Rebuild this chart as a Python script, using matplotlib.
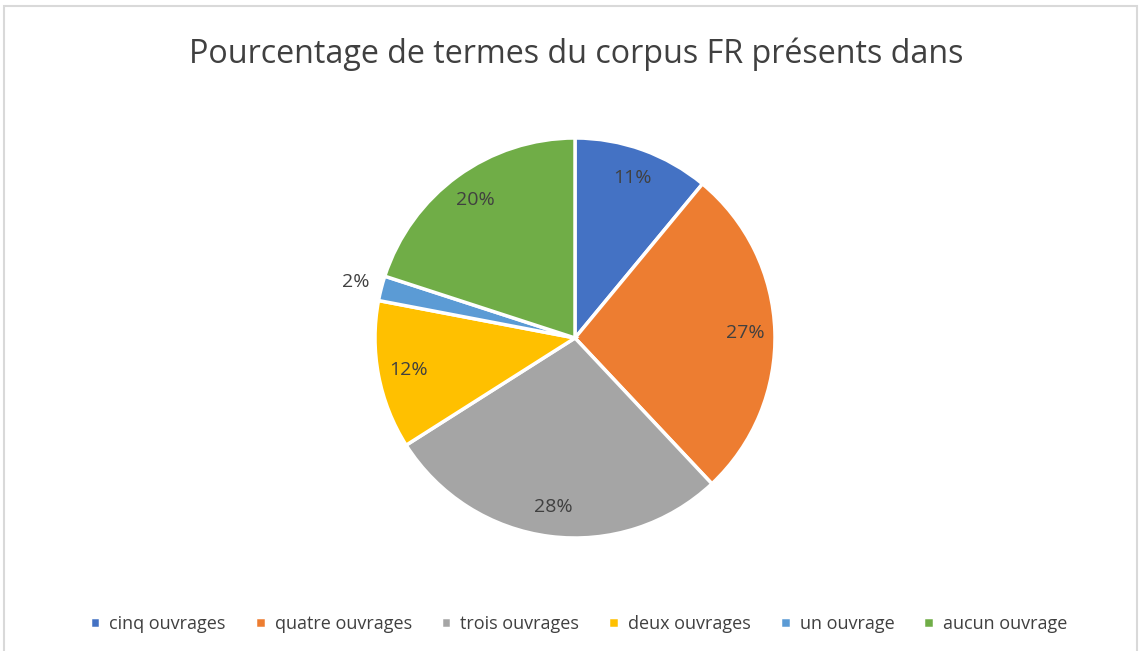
import matplotlib.pyplot as plt
from matplotlib.patches import Rectangle
import numpy as np

labels = ['cinq ouvrages', 'quatre ouvrages', 'trois ouvrages', 'deux ouvrages', 'un ouvrage', 'aucun ouvrage']
values = [11, 27, 28, 12, 2, 20]
colors = ['#4472C4', '#ED7D31', '#A5A5A5', '#FFC000', '#5B9BD5', '#70AD47']

plt.rcParams['font.family'] = ['Open Sans', 'DejaVu Sans']

fig = plt.figure(figsize=(11.41, 6.51), dpi=100)
fig.patches.append(Rectangle((4 / 1141, -0.01), 1133 / 1141, 1 - 6 / 651 + 0.01, transform=fig.transFigure,
                             fill=False, edgecolor='#D9D9D9', linewidth=1.5))

ax = fig.add_axes([375 / 1141, (651 - 538) / 651, 400 / 1141, 400 / 651])
wedges, texts = ax.pie(values, colors=colors, startangle=90, counterclock=False, radius=1,
                       wedgeprops=dict(edgecolor='white', linewidth=2.5))
ax.set_xlim(-1, 1)
ax.set_ylim(-1, 1)
ax.set_aspect('equal')

# percentage labels, small slice outside
for w, v in zip(wedges, values):
    mid = np.deg2rad((w.theta1 + w.theta2) / 2)
    d = 1.13 if v < 5 else 0.85
    ax.text(d * np.cos(mid), d * np.sin(mid), f'{v}%', ha='center', va='center',
            fontsize=14, color='#404040')

fig.text(0.505, 1 - 54 / 651, 'Pourcentage de termes du corpus FR présents dans', ha='center', va='center',
         fontsize=23.2, color='#404040')

fig.legend(wedges, labels, loc='center', bbox_to_anchor=(0.507, 1 - 624 / 651), ncol=6, frameon=False,
           fontsize=13, handlelength=0.6, handleheight=0.6, handletextpad=0.5, columnspacing=1.6,
           labelcolor='#404040')

fig.savefig('out.png', dpi=100)
